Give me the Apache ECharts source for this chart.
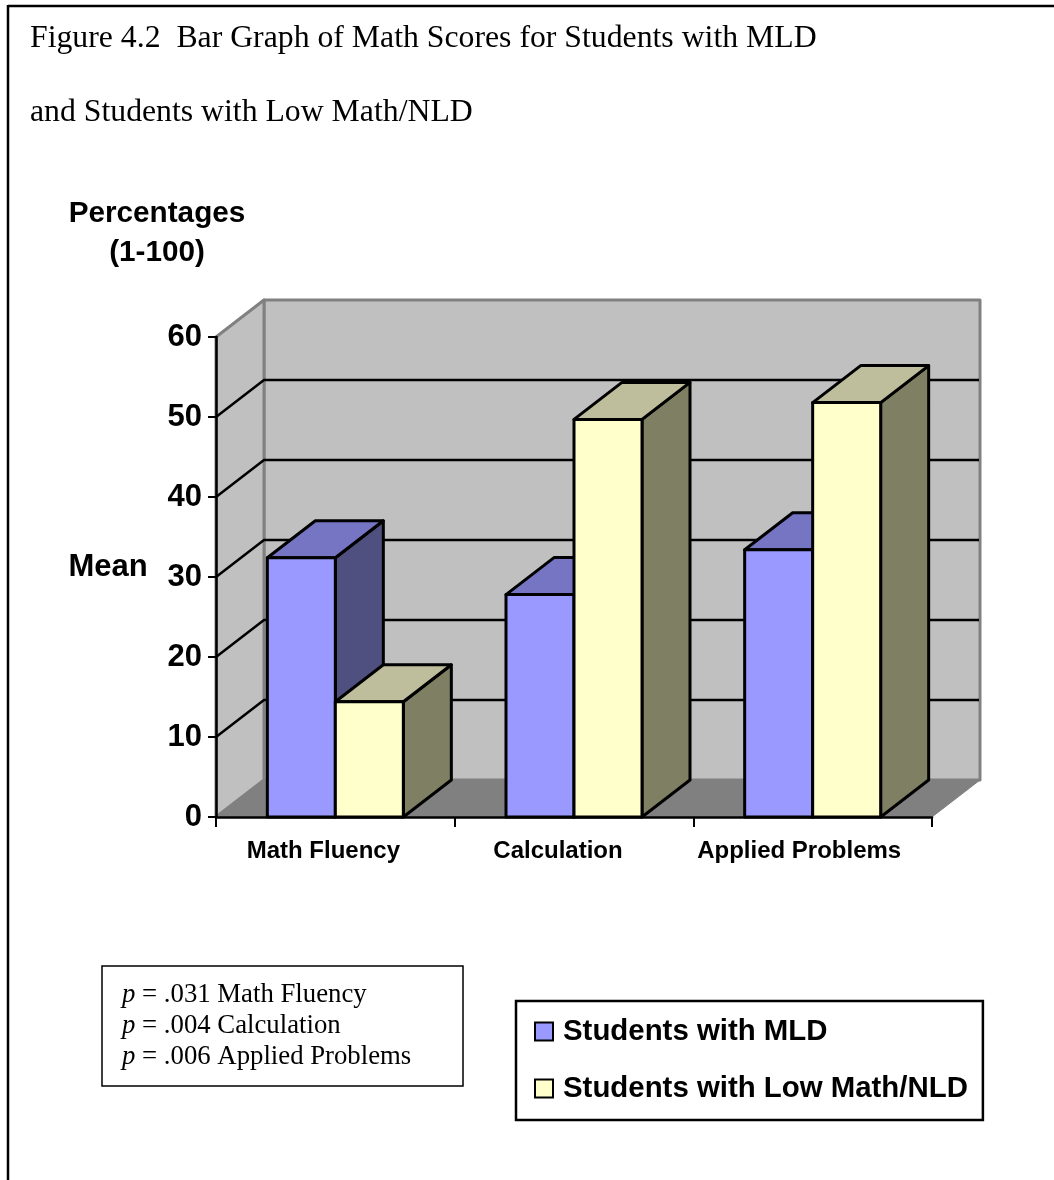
<!DOCTYPE html>
<html>
<head>
<meta charset="utf-8">
<style>html,body{margin:0;padding:0;background:#fff}#c{width:1054px;height:1180px}</style>
<script src="https://cdn.jsdelivr.net/npm/echarts@6/dist/echarts.min.js"></script>
</head>
<body>
<div id="c"></div>
<script>
var categories = ['Math Fluency', 'Calculation', 'Applied Problems'];
var seriesNames = ['Students with MLD', 'Students with Low Math/NLD'];
var mldValues = [32.4, 27.8, 33.4];
var lowMathValues = [14.4, 49.7, 51.8];
var yTicks = [0, 10, 20, 30, 40, 50, 60];
var titleLine1 = 'Figure 4.2  Bar Graph of Math Scores for Students with MLD';
var titleLine2 = 'and Students with Low Math/NLD';
var pNotes = [['.031', 'Math Fluency'], ['.004', 'Calculation'], ['.006', 'Applied Problems']];

var DX = 48, DY = -37, BAR_W = 68;
var labelShift = [24, 32, 27];
var SANS = '"Liberation Sans", Arial, sans-serif';
var SERIF = '"Liberation Serif", "Times New Roman", serif';

function poly(points, fill, stroke, lw) {
  return { type: 'polygon', shape: { points: points },
    style: { fill: fill, stroke: stroke, lineWidth: lw, lineJoin: 'round' } };
}
function renderWalls(params, api) {
  var cs = params.coordSys, L = cs.x, R = cs.x + cs.width;
  var y0 = api.coord([0, 0])[1], yTop = api.coord([0, 60])[1];
  var kids = [
    poly([[L + DX, yTop + DY], [R + DX, yTop + DY], [R + DX, y0 + DY], [L + DX, y0 + DY]], '#C0C0C0', '#808080', 3),
    poly([[L, y0], [L + DX, y0 + DY], [L + DX, yTop + DY], [L, yTop]], '#C0C0C0', '#808080', 3),
    poly([[L, y0], [L + DX, y0 + DY], [R + DX, y0 + DY], [R, y0]], '#808080', '#808080', 1)
  ];
  yTicks.forEach(function (t) {
    if (t === 0 || t === 60) return;
    var y = api.coord([0, t])[1];
    kids.push({ type: 'polyline', shape: { points: [[L, y], [L + DX, y + DY], [R + DX - 1, y + DY]] },
      style: { fill: null, stroke: '#000', lineWidth: 2.5 } });
  });
  return { type: 'group', children: kids };
}
function barRenderer(side, front, top, dark) {
  return function (params, api) {
    var p = api.coord([api.value(0), api.value(1)]);
    var base = api.coord([api.value(0), 0]);
    var x0 = side < 0 ? p[0] - BAR_W : p[0], x1 = x0 + BAR_W;
    var yT = p[1], yB = base[1];
    return { type: 'group', children: [
      poly([[x1, yT], [x1 + DX, yT + DY], [x1 + DX, yB + DY], [x1, yB]], dark, '#000', 3),
      poly([[x0, yT], [x0 + DX, yT + DY], [x1 + DX, yT + DY], [x1, yT]], top, '#000', 3),
      poly([[x0, yT], [x1, yT], [x1, yB], [x0, yB]], front, '#000', 3)
    ] };
  };
}
function pairs(vals) { return vals.map(function (v, i) { return [i, v]; }); }

var chart = echarts.init(document.getElementById('c'), null, { renderer: 'canvas' });
var noteText = pNotes.map(function (n) { return '{i|p} = ' + n[0] + ' ' + n[1]; }).join('\n');

chart.setOption({
  animation: false,
  backgroundColor: '#fff',
  grid: { left: 216, top: 337, width: 716, height: 480, containLabel: false },
  xAxis: {
    type: 'category', z: 10,
    data: categories.map(function (c, i) { return { value: c, textStyle: { padding: [0, labelShift[i], 0, 0] } }; }),
    axisLine: { show: true, lineStyle: { color: '#000', width: 2.5 } },
    axisTick: { show: true, length: 10, lineStyle: { color: '#000', width: 2 } },
    axisLabel: { color: '#000', fontFamily: SANS, fontWeight: 'bold', fontSize: 24, margin: 22, interval: 0 },
    splitLine: { show: false }
  },
  yAxis: {
    type: 'value', min: 0, max: 60, interval: 10, z: 10,
    axisLine: { show: true, lineStyle: { color: '#000', width: 2.5 } },
    axisTick: { show: true, length: 8, lineStyle: { color: '#000', width: 2 } },
    axisLabel: { color: '#000', fontFamily: SANS, fontWeight: 'bold', fontSize: 31, margin: 14, padding: [4, 0, 0, 0] },
    splitLine: { show: false }
  },
  legend: {
    left: 516, top: 1001, orient: 'vertical', align: 'left',
    backgroundColor: '#fff', borderColor: '#000', borderWidth: 2.5, borderRadius: 0,
    padding: [16, 15, 17, 18], itemGap: 28, itemWidth: 18, itemHeight: 18,
    textStyle: { color: '#000', fontFamily: SANS, fontWeight: 'bold', fontSize: 29.4, padding: [0, 0, 0, 5] },
    data: [
      { name: seriesNames[0], icon: 'rect', itemStyle: { color: '#9999FF', borderColor: '#000', borderWidth: 2 } },
      { name: seriesNames[1], icon: 'rect', itemStyle: { color: '#FFFFCC', borderColor: '#000', borderWidth: 2 } }
    ]
  },
  series: [
    { type: 'custom', name: 'walls', z: 1, silent: true, renderItem: renderWalls, data: [[0, 0]], encode: { x: 0, y: 1 } },
    { type: 'custom', name: seriesNames[0], z: 2, itemStyle: { color: '#9999FF' },
      renderItem: barRenderer(-1, '#9999FF', '#7575C4', '#4F4F80'), data: pairs(mldValues), encode: { x: 0, y: 1 } },
    { type: 'custom', name: seriesNames[1], z: 3, itemStyle: { color: '#FFFFCC' },
      renderItem: barRenderer(1, '#FFFFCC', '#BEBE9C', '#7F7F63'), data: pairs(lowMathValues), encode: { x: 0, y: 1 } }
  ],
  graphic: [
    { type: 'line', shape: { x1: 8, y1: 6, x2: 1054, y2: 6 }, style: { stroke: '#000', lineWidth: 2.5 } },
    { type: 'line', shape: { x1: 8, y1: 5, x2: 8, y2: 1180 }, style: { stroke: '#000', lineWidth: 2.5 } },
    { type: 'text', left: 30, top: 23, style: { text: titleLine1, font: '31.75px ' + SERIF, fill: '#000' } },
    { type: 'text', left: 30, top: 97, style: { text: titleLine2, font: '31.75px ' + SERIF, fill: '#000' } },
    { type: 'text', x: 157, y: 214, style: { text: 'Percentages', font: 'bold 29.7px ' + SANS, fill: '#000', align: 'center', verticalAlign: 'middle' } },
    { type: 'text', x: 157, y: 253, style: { text: '(1-100)', font: 'bold 29.7px ' + SANS, fill: '#000', align: 'center', verticalAlign: 'middle' } },
    { type: 'text', x: 108, y: 567, style: { text: 'Mean', font: 'bold 31px ' + SANS, fill: '#000', align: 'center', verticalAlign: 'middle' } },
    { type: 'rect', shape: { x: 102, y: 966, width: 361, height: 120 }, style: { fill: '#fff', stroke: '#000', lineWidth: 1.5 } },
    { type: 'text', x: 122, y: 979, style: { text: noteText, fill: '#000', font: '26.75px ' + SERIF, lineHeight: 31,
        rich: { i: { fontStyle: 'italic', fontFamily: SERIF, fontSize: 26.75, lineHeight: 31 } } } }
  ]
});
</script>
</body>
</html>
